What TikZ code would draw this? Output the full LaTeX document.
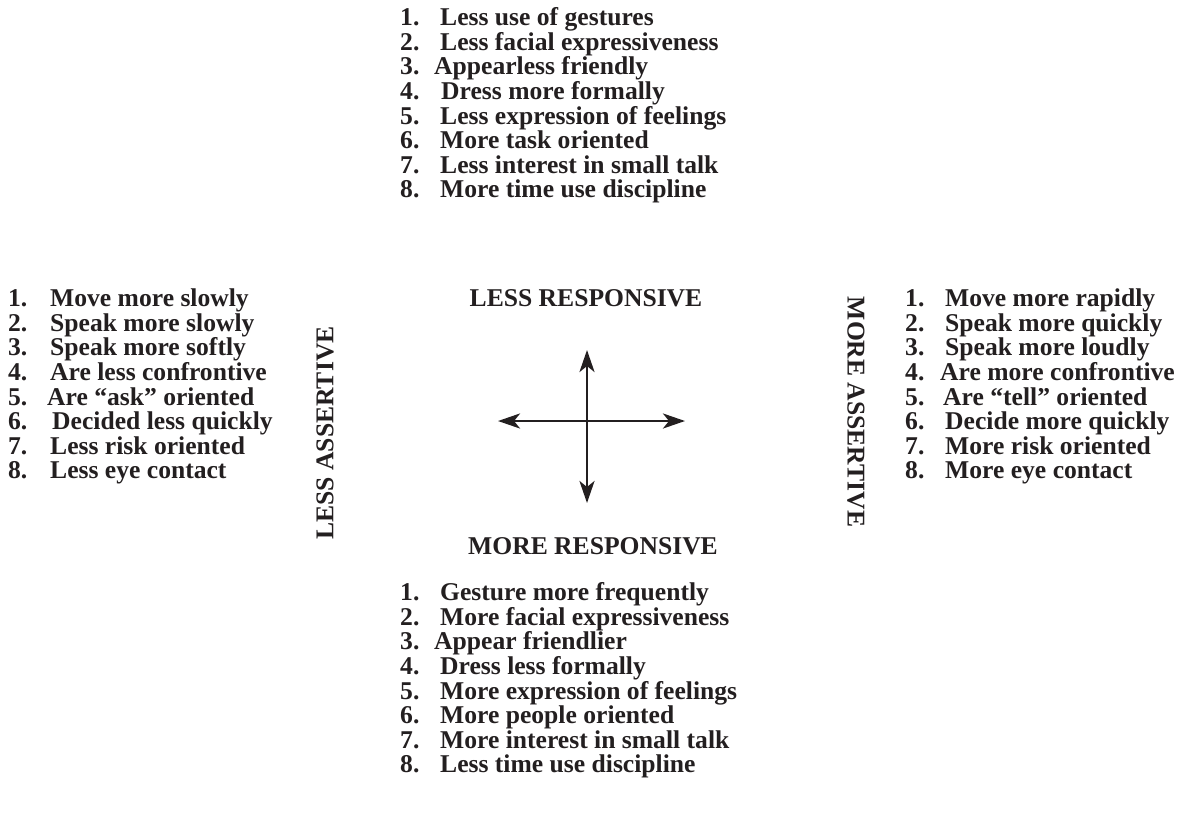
\documentclass[tikz,border=0pt]{standalone}
\usepackage{fontspec}
\setmainfont{Liberation Serif}
\usepackage{xcolor}
\usetikzlibrary{arrows.meta,positioning}

\definecolor{ink}{HTML}{231F20}

\begin{document}
\begin{tikzpicture}[
      x=1pt, y=-1pt,
      entry/.style={
        inner sep=0pt,
        anchor=base west,
        text=ink,
        font=\fontsize{25.6}{25.6}\selectfont\bfseries
      },
      num/.style={entry},
      heading/.style={
        inner sep=0pt,
        text=ink,
        font=\fontsize{25.6}{25.6}\selectfont\bfseries
      },
      axis/.style={
        draw=ink,
        line width=2.8pt,
        {Stealth[length=22pt,width=15pt,inset=6pt]}-{Stealth[length=22pt,width=15pt,inset=6pt]}
      }
    ]
      \useasboundingbox (0,0) rectangle (1202,831);

      % Less responsive (top)
      \foreach \dx/\t [count=\i] in {0/Less use of gestures, 0/Less facial expressiveness,
          -6/Appearless friendly, 1/Dress more formally, 0/Less expression of feelings,
          0/More task oriented, 0/Less interest in small talk, 0/More time use discipline} {
        \node[num] (tn\i) at (400, {1+24.6*\i}) {\i.};
        \node[entry] (tt\i) at ({440+\dx}, {1+24.6*\i}) {\t};
      }

      % Less assertive (left)
      \foreach \dx/\t [count=\i] in {0/Move more slowly, 0/Speak more slowly, 0/Speak more softly,
          0/Are less confrontive, -3/Are “ask” oriented, 2/Decided less quickly,
          0/Less risk oriented, 0/Less eye contact} {
        \node[num] (ln\i) at (8, {282+24.6*\i}) {\i.};
        \node[entry] (lt\i) at ({50+\dx}, {282+24.6*\i}) {\t};
      }

      % More assertive (right)
      \foreach \dx/\t [count=\i] in {0/Move more rapidly, 0/Speak more quickly, 0/Speak more loudly,
          -5/Are more confrontive, -2/Are “tell” oriented, 0/Decide more quickly,
          0/More risk oriented, 0/More eye contact} {
        \node[num] (rn\i) at (905, {282+24.6*\i}) {\i.};
        \node[entry] (rt\i) at ({945+\dx}, {282+24.6*\i}) {\t};
      }

      % More responsive (bottom)
      \foreach \dx/\t [count=\i] in {0/Gesture more frequently, 0/More facial expressiveness,
          -6/Appear friendlier, 0/Dress less formally, 0/More expression of feelings,
          0/More people oriented, 0/More interest in small talk, 0/Less time use discipline} {
        \node[num] (bn\i) at (400, {576+24.6*\i}) {\i.};
        \node[entry] (bt\i) at ({440+\dx}, {576+24.6*\i}) {\t};
      }

      % Axis labels
      \node[heading] (lessresp) at (586,298) {LESS RESPONSIVE};
      \node[heading] (moreresp) at (593,546) {MORE RESPONSIVE};
      \node[heading, rotate=90] (lessass) at (325,433) {LESS ASSERTIVE};
      \node[heading, rotate=-90] (moreass) at (856,412) {MORE ASSERTIVE};

      % Cross
      \coordinate (up) at (587,350);
      \coordinate (down) at (587,503);
      \coordinate (west) at (498,421);
      \coordinate (east) at (685,421);
      \draw[axis] (down) -- (up);
      \draw[axis] (west) -- (east);
    \end{tikzpicture}
\end{document}
